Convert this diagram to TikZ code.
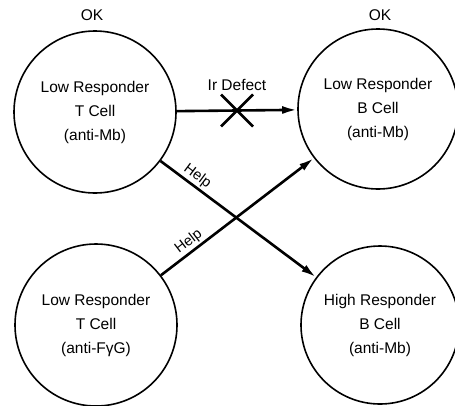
\documentclass[tikz,border=0pt]{standalone}
\usepackage{fontspec}
\setmainfont{Liberation Sans}
\usetikzlibrary{arrows.meta}
\begin{document}
\begin{tikzpicture}[x=1pt,y=-1pt,
  cell/.style={draw, circle, line width=1.6pt, inner sep=0pt, minimum size=#1},
  cell/.default=162pt,
  ctext/.style={align=center, inner sep=1pt, font=\fontsize{15.5}{24}\selectfont},
  lbl/.style={font=\fontsize{15.5}{18}\selectfont, inner sep=1pt},
  hlp/.style={font=\fontsize{14.5}{16}\selectfont, sloped, above, inner sep=1.5pt},
  conn/.style={line width=2.6pt, -{Latex[length=15pt,width=8pt]}},
  xmark/.style={line width=2.6pt}]
\useasboundingbox (0,0) rectangle (455,405);
\node[cell] (tl) at (95,112) {};
\node[cell=160pt] (tr) at (378,109) {};
\node[cell] (bl) at (96,325) {};
\node[cell=158pt] (br) at (380,325) {};
\node[ctext] (tlt) at (tl) {Low Responder\\T Cell\\(anti-Mb)};
\node[ctext] (trt) at (tr) {Low Responder\\B Cell\\(anti-Mb)};
\node[ctext] (blt) at (bl) {Low Responder\\T Cell\\(anti-F\char"03B3 G)};
\node[ctext] (brt) at (br) {High Responder\\B Cell\\(anti-Mb)};
\node[lbl] (ok1) at (92,15) {OK};
\node[lbl] (ok2) at (380,15) {OK};
\draw[conn] (tl) -- coordinate[pos=0.5] (xc) (tr);
\node[lbl] (ird) at (237,85) {Ir Defect};
\draw[xmark] ([shift={(-16,-16)}]xc) -- ([shift={(16,16)}]xc);
\draw[xmark] ([shift={(16,-16)}]xc) -- ([shift={(-16,16)}]xc);
\draw[conn] (tl) -- node[hlp, pos=0.2] (h1) {Help} (br);
\draw[conn] (bl) -- node[hlp, pos=0.22] (h2) {Help} (tr);
\end{tikzpicture}
\end{document}
